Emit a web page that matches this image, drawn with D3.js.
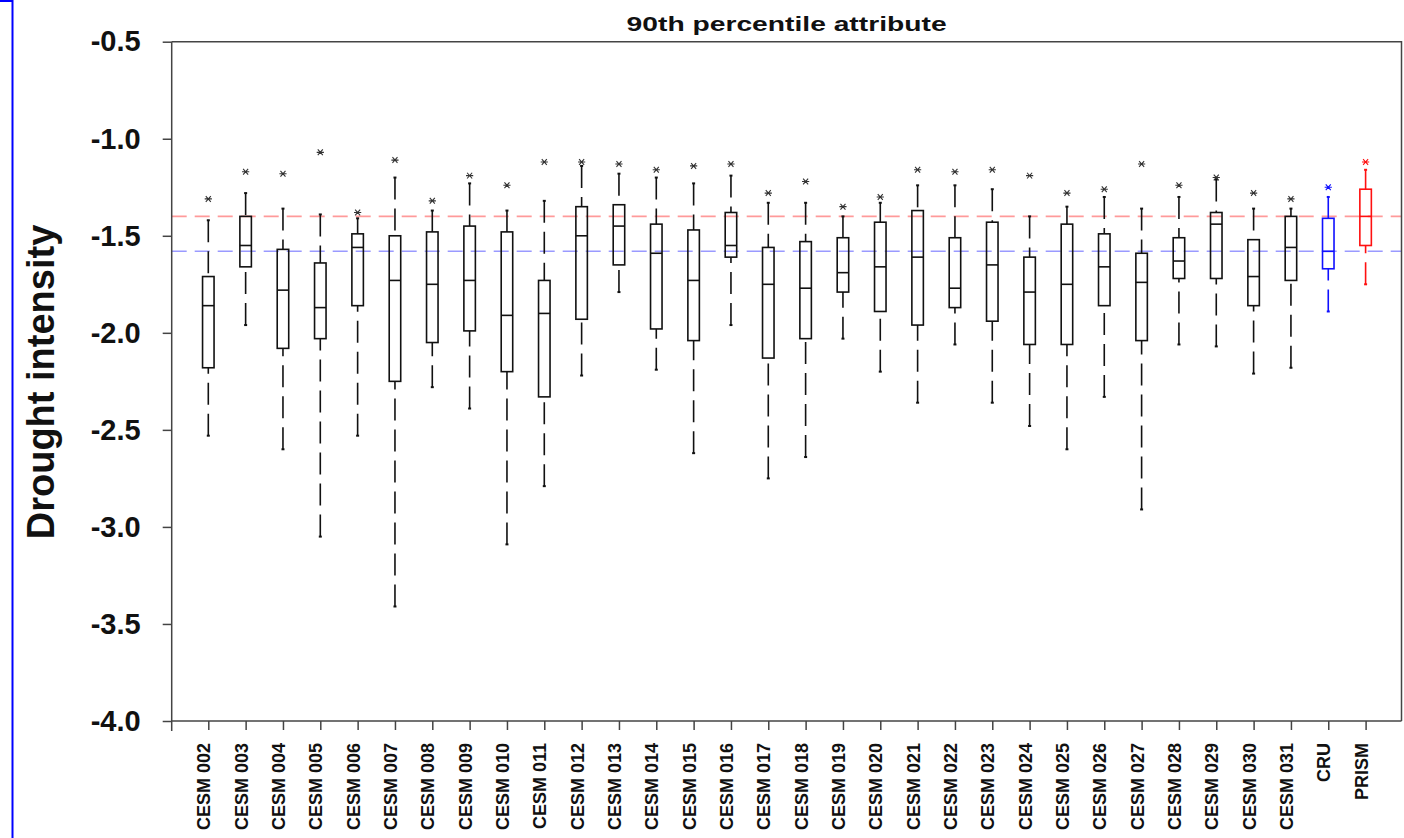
<!DOCTYPE html>
<html>
<head>
<meta charset="utf-8">
<script src="https://cdn.jsdelivr.net/npm/d3@7"></script>
<style>
  body { margin: 0; background: #fff; }
  svg { display: block; font-family: 'Liberation Sans', Arial, Helvetica, sans-serif; }
</style>
</head>
<body>
<div id="chart"></div>
<script>
// categories along the x axis
const categories = ['CESM 002', 'CESM 003', 'CESM 004', 'CESM 005', 'CESM 006', 'CESM 007',
  'CESM 008', 'CESM 009', 'CESM 010', 'CESM 011', 'CESM 012', 'CESM 013', 'CESM 014',
  'CESM 015', 'CESM 016', 'CESM 017', 'CESM 018', 'CESM 019', 'CESM 020', 'CESM 021',
  'CESM 022', 'CESM 023', 'CESM 024', 'CESM 025', 'CESM 026', 'CESM 027', 'CESM 028',
  'CESM 029', 'CESM 030', 'CESM 031', 'CRU', 'PRISM']

// box statistics
const whiskerLow = [-2.53, -1.96, -2.60, -3.05, -2.53, -3.41, -2.28, -2.39, -3.09, -2.79,
  -2.22, -1.79, -2.19, -2.62, -1.96, -2.75, -2.64, -2.03, -2.20, -2.36, -2.06, -2.36,
  -2.48, -2.60, -2.33, -2.91, -2.06, -2.07, -2.21, -2.18, -1.89, -1.75]
const q1 = [-2.18, -1.66, -2.08, -2.03, -1.86, -2.25, -2.05, -1.99, -2.20, -2.33,
  -1.93, -1.65, -1.98, -2.04, -1.61, -2.13, -2.03, -1.79, -1.89, -1.96, -1.87, -1.94,
  -2.06, -2.06, -1.86, -2.04, -1.72, -1.72, -1.86, -1.73, -1.67, -1.55]
const median = [-1.86, -1.55, -1.78, -1.87, -1.56, -1.73, -1.75, -1.73, -1.91, -1.90,
  -1.50, -1.45, -1.59, -1.73, -1.55, -1.75, -1.77, -1.69, -1.66, -1.61, -1.77, -1.65,
  -1.79, -1.75, -1.66, -1.74, -1.63, -1.44, -1.71, -1.56, -1.58, -1.40]
const q3 = [-1.71, -1.40, -1.57, -1.64, -1.49, -1.50, -1.48, -1.45, -1.48, -1.73,
  -1.35, -1.34, -1.44, -1.47, -1.38, -1.56, -1.53, -1.51, -1.43, -1.37, -1.51, -1.43,
  -1.61, -1.44, -1.49, -1.59, -1.51, -1.38, -1.52, -1.40, -1.41, -1.26]
const whiskerHigh = [-1.42, -1.28, -1.36, -1.39, -1.41, -1.20, -1.37, -1.23, -1.37, -1.32,
  -1.14, -1.18, -1.20, -1.23, -1.19, -1.33, -1.33, -1.40, -1.33, -1.24, -1.24, -1.26,
  -1.40, -1.35, -1.30, -1.36, -1.30, -1.21, -1.36, -1.36, -1.30, -1.16]
const outlier = [-1.31, -1.17, -1.18, -1.07, -1.38, -1.11, -1.32, -1.19, -1.24, -1.12,
  -1.12, -1.13, -1.16, -1.14, -1.13, -1.28, -1.22, -1.35, -1.30, -1.16, -1.17, -1.16,
  -1.19, -1.28, -1.26, -1.13, -1.24, -1.20, -1.28, -1.31, -1.25, -1.12]

// horizontal reference lines: PRISM and CRU medians
const refValues = [-1.40, -1.58]
const refColors = ['#ff9a9a', '#9a9aff']

const yTicks = [-0.5, -1.0, -1.5, -2.0, -2.5, -3.0, -3.5, -4.0]

const boxColor = (name) => name === 'CRU' ? '#1010ff' : name === 'PRISM' ? '#ff1010' : '#111'

const W = 1404
const H = 838
const pLeft = 171.7
const pRight = 1401.5
const pTop = 41.7
const pBottom = 721

const data = categories.map((c, i) => ({
  name: c, lo: whiskerLow[i], q1: q1[i], med: median[i], q3: q3[i],
  hi: whiskerHigh[i], out: outlier[i]
}))

const svg = d3.select('#chart').append('svg')
  .attr('width', W)
  .attr('height', H)

const x = d3.scalePoint().domain(categories).range([208.3, 1365.6])
const y = d3.scaleLinear().domain([-0.5, -4.0]).range([pTop, pBottom])

// stray blue selection edge at the left of the screenshot
svg.append('line').attr('x1', 12.5).attr('x2', 12.5).attr('y1', 0).attr('y2', H)
  .attr('stroke', '#0000ff').attr('stroke-width', 2)
svg.append('line').attr('x1', 0).attr('x2', 12.5).attr('y1', 1).attr('y2', 1)
  .attr('stroke', '#0000ff').attr('stroke-width', 2)

// title
svg.append('text')
  .text('90th percentile attribute')
  .attr('x', (pLeft + pRight) / 2)
  .attr('y', 31)
  .attr('text-anchor', 'middle')
  .attr('textLength', 320)
  .attr('lengthAdjust', 'spacingAndGlyphs')
  .style('font-size', '21px')
  .style('font-weight', 'bold')
  .attr('fill', '#111')

// reference lines
svg.selectAll('.ref')
  .data(refValues)
  .enter()
  .append('line')
  .classed('ref', true)
  .attr('x1', pLeft)
  .attr('x2', pRight)
  .attr('y1', (d) => y(d))
  .attr('y2', (d) => y(d))
  .attr('stroke', (d, i) => refColors[i])
  .attr('stroke-width', 1.6)
  .attr('stroke-dasharray', '15,8')

// frame (top + right)
svg.append('path')
  .attr('d', `M${pLeft},${pTop}H${pRight}V${pBottom}`)
  .attr('fill', 'none')
  .attr('stroke', '#444')
  .attr('stroke-width', 1.5)

// y axis
let yAxis = d3.axisLeft(y).tickValues(yTicks).tickSize(9).tickPadding(22)
  .tickFormat(d3.format('.1f'))
let gy = svg.append('g')
  .attr('class', 'axis axis--y')
  .attr('transform', `translate(${pLeft},0)`)
  .call(yAxis)
gy.select('.domain').attr('stroke', '#444').attr('stroke-width', 1.5)
  .attr('d', `M0,${pTop}V${pBottom + 10}`)
gy.selectAll('.tick line').attr('stroke', '#444').attr('stroke-width', 1.5)
gy.selectAll('text')
  .text((d) => d.toFixed(1))
  .attr('fill', '#111')
  .style('font-size', '29px')
  .style('font-weight', 'bold')
  .style('font-family', "'Liberation Sans', Arial, sans-serif")

// x axis
let xAxis = d3.axisBottom(x).tickSize(9).tickFormat('')
let gx = svg.append('g')
  .attr('class', 'axis axis--x')
  .attr('transform', `translate(0,${pBottom})`)
  .call(xAxis)
gx.select('.domain').attr('stroke', '#444').attr('stroke-width', 1.5)
  .attr('d', `M${pLeft},0H${pRight}`)
gx.selectAll('.tick line').attr('stroke', '#444').attr('stroke-width', 1.5)

// rotated category labels
svg.selectAll('.xlabel')
  .data(categories)
  .enter()
  .append('text')
  .classed('xlabel', true)
  .text((d) => d)
  .attr('transform', (d) => `translate(${x(d) + 2},743) rotate(-90)`)
  .attr('text-anchor', 'end')
  .style('font-size', '18px')
  .style('font-weight', 'bold')
  .attr('fill', '#111')

// y axis title
svg.append('text')
  .text('Drought intensity')
  .attr('transform', 'translate(54,382) rotate(-90)')
  .attr('text-anchor', 'middle')
  .style('font-size', '38px')
  .style('font-weight', 'bold')
  .attr('fill', '#111')

// boxes
let boxW = 11.5
let g = svg.append('g').classed('boxes', true)
let box = g.selectAll('.box')
  .data(data)
  .enter()
  .append('g')
  .classed('box', true)
  .attr('transform', (d) => `translate(${x(d.name)},0)`)

// whiskers drawn from the cap toward the box, so dashes start at the cap
box.append('line')
  .attr('x1', 0).attr('x2', 0)
  .attr('y1', (d) => y(d.lo))
  .attr('y2', (d) => y(d.q1))
  .attr('stroke', (d) => boxColor(d.name))
  .attr('stroke-width', 1.6)
  .attr('stroke-dasharray', '22,9')
box.append('line')
  .attr('x1', 0).attr('x2', 0)
  .attr('y1', (d) => y(d.hi))
  .attr('y2', (d) => y(d.q3))
  .attr('stroke', (d) => boxColor(d.name))
  .attr('stroke-width', 1.6)
  .attr('stroke-dasharray', '22,9')

// small caps
box.selectAll('.cap')
  .data((d) => [d.lo, d.hi].map((v) => ({ v: v, name: d.name })))
  .enter()
  .append('line')
  .classed('cap', true)
  .attr('x1', -1.5).attr('x2', 1.5)
  .attr('y1', (d) => y(d.v))
  .attr('y2', (d) => y(d.v))
  .attr('stroke', (d) => boxColor(d.name))
  .attr('stroke-width', 2)

box.append('rect')
  .attr('x', -boxW / 2)
  .attr('width', boxW)
  .attr('y', (d) => y(d.q3))
  .attr('height', (d) => y(d.q1) - y(d.q3))
  .attr('fill', 'none')
  .attr('stroke', (d) => boxColor(d.name))
  .attr('stroke-width', 1.6)

box.append('line')
  .attr('x1', -boxW / 2).attr('x2', boxW / 2)
  .attr('y1', (d) => y(d.med))
  .attr('y2', (d) => y(d.med))
  .attr('stroke', (d) => boxColor(d.name))
  .attr('stroke-width', 1.6)

// outlier asterisks
let s = 3.6
box.append('path')
  .attr('d', (d) => {
    let cy = y(d.out)
    return `M${-s},${cy}H${s}M${-s * 0.7},${cy - s * 0.8}L${s * 0.7},${cy + s * 0.8}` +
      `M${-s * 0.7},${cy + s * 0.8}L${s * 0.7},${cy - s * 0.8}`
  })
  .attr('fill', 'none')
  .attr('stroke', (d) => d.name === 'CRU' || d.name === 'PRISM' ? boxColor(d.name) : '#333')
  .attr('stroke-width', 1.1)
</script>
</body>
</html>
